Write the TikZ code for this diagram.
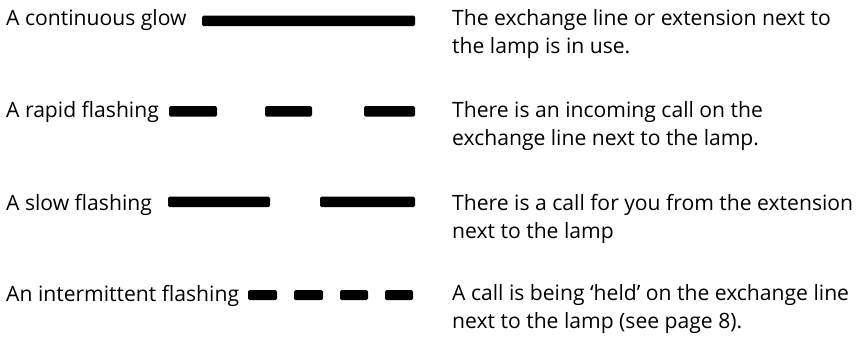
\documentclass[tikz,border=0pt]{standalone}
\usepackage{fontspec}
\setmainfont{Open Sans}

\begin{document}
\begin{tikzpicture}[
    x=1bp, y=-1bp,
    txt/.style={font=\fontsize{21.2}{28}\selectfont, inner sep=0pt,
                anchor=base west},
    desc/.style={txt, align=left},
    lampbar/.style={fill=black, rounded corners=1.5bp},
  ]
  \useasboundingbox (0,0) rectangle (863,337);

  \node[txt] (glow)  at (6,25)  {A continuous glow};
  \node[txt] (rapid) at (6,117) {A rapid flashing};
  \node[txt] (slow)  at (6,210) {A slow flashing};
  \node[txt] (inter) at (6,301) {An intermittent flashing};

  % multi-line nodes: base anchor sits on the last line
  \node[desc] (glowtxt)  at (452,53)
    {The exchange line or extension next to\\the lamp is in use.};
  \node[desc] (rapidtxt) at (452,145)
    {There is an incoming call on the\\exchange line next to the lamp.};
  \node[desc] (slowtxt)  at (452,238)
    {There is a call for you from the extension\\next to the lamp};
  \node[desc] (intertxt) at (452,328)
    {A call is being `held' on the exchange line\\next to the lamp (see page 8).};

  \fill[lampbar] (202,15.5) rectangle (415,26);
  \foreach \a/\b in {169/217, 265/312, 364/415}
    \fill[lampbar] (\a,106) rectangle (\b,116.5);
  \foreach \a/\b in {168/270, 320/415}
    \fill[lampbar] (\a,196.5) rectangle (\b,207);
  \foreach \a/\b in {248/277, 294/323, 340/368, 385/413}
    \fill[lampbar] (\a,290) rectangle (\b,300);
\end{tikzpicture}
\end{document}
